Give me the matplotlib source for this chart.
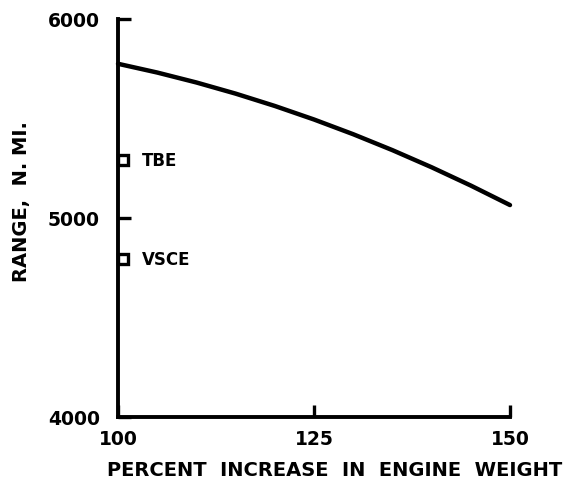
import matplotlib
matplotlib.use("Agg")
import matplotlib.pyplot as plt

# Data
weight_pct = [100, 105, 110, 115, 120, 125, 130, 135, 140, 145, 150]
range_nmi = [5775, 5731, 5681, 5625, 5563, 5495, 5421, 5341, 5255, 5163, 5065]

point_labels = ["TBE", "VSCE"]
point_x = [100.6, 100.6]
point_y = [5293, 4793]

x_ticks = [100, 125, 150]
y_ticks = [4000, 5000, 6000]

plt.rcParams['font.family'] = ['DejaVu Sans']
plt.rcParams['font.weight'] = 'bold'

fig = plt.figure(figsize=(5.75, 4.89), dpi=100)
ax = fig.add_axes([118/575, 1 - 418/489, (510 - 118)/575, (418 - 20)/489])

ax.plot(weight_pct, range_nmi, color='black', lw=3.2, solid_capstyle='round', clip_on=False)
ax.plot(point_x, point_y, linestyle='none', marker='s', markersize=7,
        markerfacecolor='white', markeredgecolor='black', markeredgewidth=2.4, clip_on=False)
for lbl, xv, yv in zip(point_labels, point_x, point_y):
    ax.annotate(lbl, (xv, yv), xytext=(14, 0), textcoords='offset points',
                ha='left', va='center', fontsize=12, fontweight='bold')

ax.set_xlim(100, 150)
ax.set_ylim(4000, 6000)
ax.set_xticks(x_ticks)
ax.set_yticks(y_ticks)
ax.set_xticklabels([str(v) for v in x_ticks], fontsize=13.5, fontweight='bold')
ax.set_yticklabels([str(v) for v in y_ticks], fontsize=13.5, fontweight='bold')

for s in ['top', 'right']:
    ax.spines[s].set_visible(False)
for s in ['left', 'bottom']:
    ax.spines[s].set_linewidth(2.8)
ax.tick_params(axis='both', direction='in', length=9, width=2.4, colors='black')
ax.tick_params(axis='y', pad=13)
ax.tick_params(axis='x', pad=9)

fig.text(335/575, 1 - 471/489, "PERCENT  INCREASE  IN  ENGINE  WEIGHT",
         ha='center', va='center', fontsize=14, fontweight='bold')
fig.text(22/575, 1 - 202/489, "RANGE,  N. MI.", rotation=90,
         ha='center', va='center', fontsize=14, fontweight='bold')

fig.savefig("out.png", dpi=100, facecolor='white')
